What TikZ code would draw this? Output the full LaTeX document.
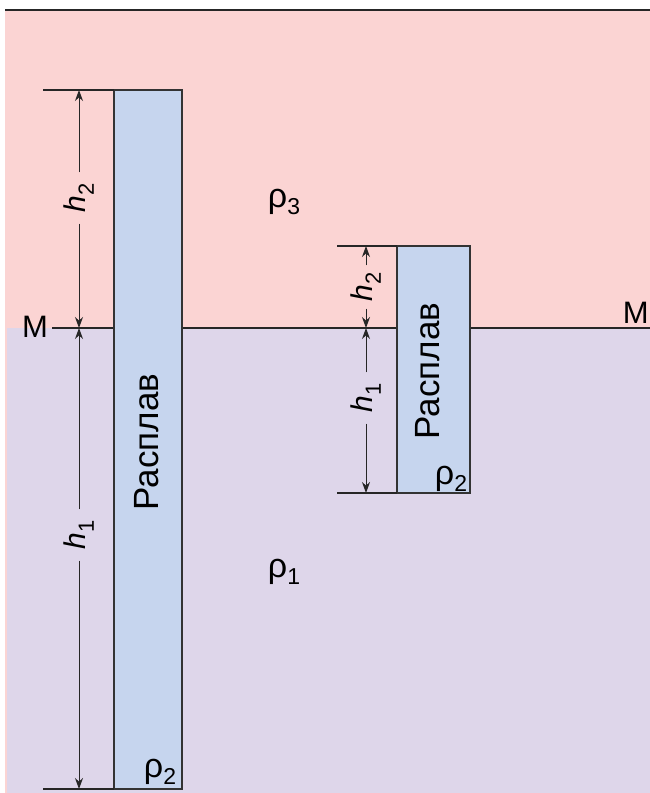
\documentclass[tikz,border=0pt]{standalone}
\usepackage{fontspec}
\setmainfont{Liberation Sans}
\usetikzlibrary{arrows.meta}
\definecolor{pinkbg}{HTML}{FBD4D3}
\definecolor{lilacbg}{HTML}{DED6EA}
\definecolor{meltblue}{HTML}{C6D5EE}
\definecolor{edgegray}{HTML}{333333}
\newcommand{\hsub}[1]{\textit{h}\raisebox{-8pt}{\fontsize{22}{22}\selectfont #1}}
\newcommand{\rsub}[1]{ρ\raisebox{-7pt}{\fontsize{23}{23}\selectfont #1}}
\begin{document}
\begin{tikzpicture}[x=1pt,y=-1pt,
  column/.style={fill=meltblue,draw=edgegray,line width=1.1pt},
  extline/.style={draw=black!85,line width=1.1pt},
  dim/.style={draw=black!85,line width=1pt,-{Stealth[length=11pt,width=8pt]}},
  dimlabel/.style={rotate=90,inner sep=7pt,font=\fontsize{30}{30}\selectfont},
  rholabel/.style={font=\fontsize{34}{34}\selectfont,inner sep=0pt},
  meltlabel/.style={rotate=90,font=\fontsize{35}{35}\selectfont,inner sep=0pt},
  mlabel/.style={font=\fontsize{31}{31}\selectfont,inner sep=0pt}]
\useasboundingbox (0,0) rectangle (650,793);
% backgrounds
\fill[pinkbg] (5,9) rectangle (650,793);
\fill[lilacbg] (7,328) rectangle (650,793);
\draw[line width=1.6pt,black!85] (5,10) -- (650,10);
% M level
\coordinate (Mstart) at (52,328);
\coordinate (Mend) at (650,328);
\draw[extline] (Mstart) -- (Mend);
\node[mlabel] (ML) at (35,327) {M};
\node[mlabel,anchor=south east] (MR) at (649,324) {M};
% columns
\draw[column] (114,90) rectangle (182,789);
\draw[column] (397,246) rectangle (470,493);
% extension lines
\coordinate (LtopA) at (43,90);   \coordinate (LtopB) at (114,90);
\coordinate (LbotA) at (43,789);  \coordinate (LbotB) at (114,789);
\coordinate (RtopA) at (337,246); \coordinate (RtopB) at (397,246);
\coordinate (RbotA) at (337,493); \coordinate (RbotB) at (397,493);
\draw[extline] (LtopA) -- (LtopB);
\draw[extline] (LbotA) -- (LbotB);
\draw[extline] (RtopA) -- (RtopB);
\draw[extline] (RbotA) -- (RbotB);
% dimension targets
\coordinate (L2t) at (79,90);  \coordinate (L2b) at (79,328);
\coordinate (L1t) at (79,328); \coordinate (L1b) at (79,789);
\coordinate (R2t) at (366,246); \coordinate (R2b) at (366,328);
\coordinate (R1t) at (366,328); \coordinate (R1b) at (366,493);
% left dimensions
\node[dimlabel,inner sep=11pt] (hL2) at (79,198) {\hsub{2}};
\draw[dim] (hL2.east) -- (L2t);
\draw[dim] (hL2.west) -- (L2b);
\node[dimlabel,inner sep=11pt] (hL1) at (79,535) {\hsub{1}};
\draw[dim] (hL1.east) -- (L1t);
\draw[dim] (hL1.west) -- (L1b);
% right dimensions
\node[dimlabel,inner sep=7pt] (hR2) at (366,287) {\hsub{2}};
\draw[dim] (hR2.east) -- (R2t);
\draw[dim] (hR2.west) -- (R2b);
\node[dimlabel,inner sep=11pt] (hR1) at (366,398) {\hsub{1}};
\draw[dim] (hR1.east) -- (R1t);
\draw[dim] (hR1.west) -- (R1b);
% labels
\node[meltlabel] (meltL) at (147,442) {Расплав};
\node[meltlabel] (meltR) at (428,371) {Расплав};
\node[rholabel] (rho3) at (284,202) {\rsub{3}};
\node[rholabel] (rho1) at (284,572) {\rsub{1}};
\node[rholabel] (rho2L) at (160,772) {\rsub{2}};
\node[rholabel] (rho2R) at (451,479) {\rsub{2}};
\end{tikzpicture}
\end{document}
